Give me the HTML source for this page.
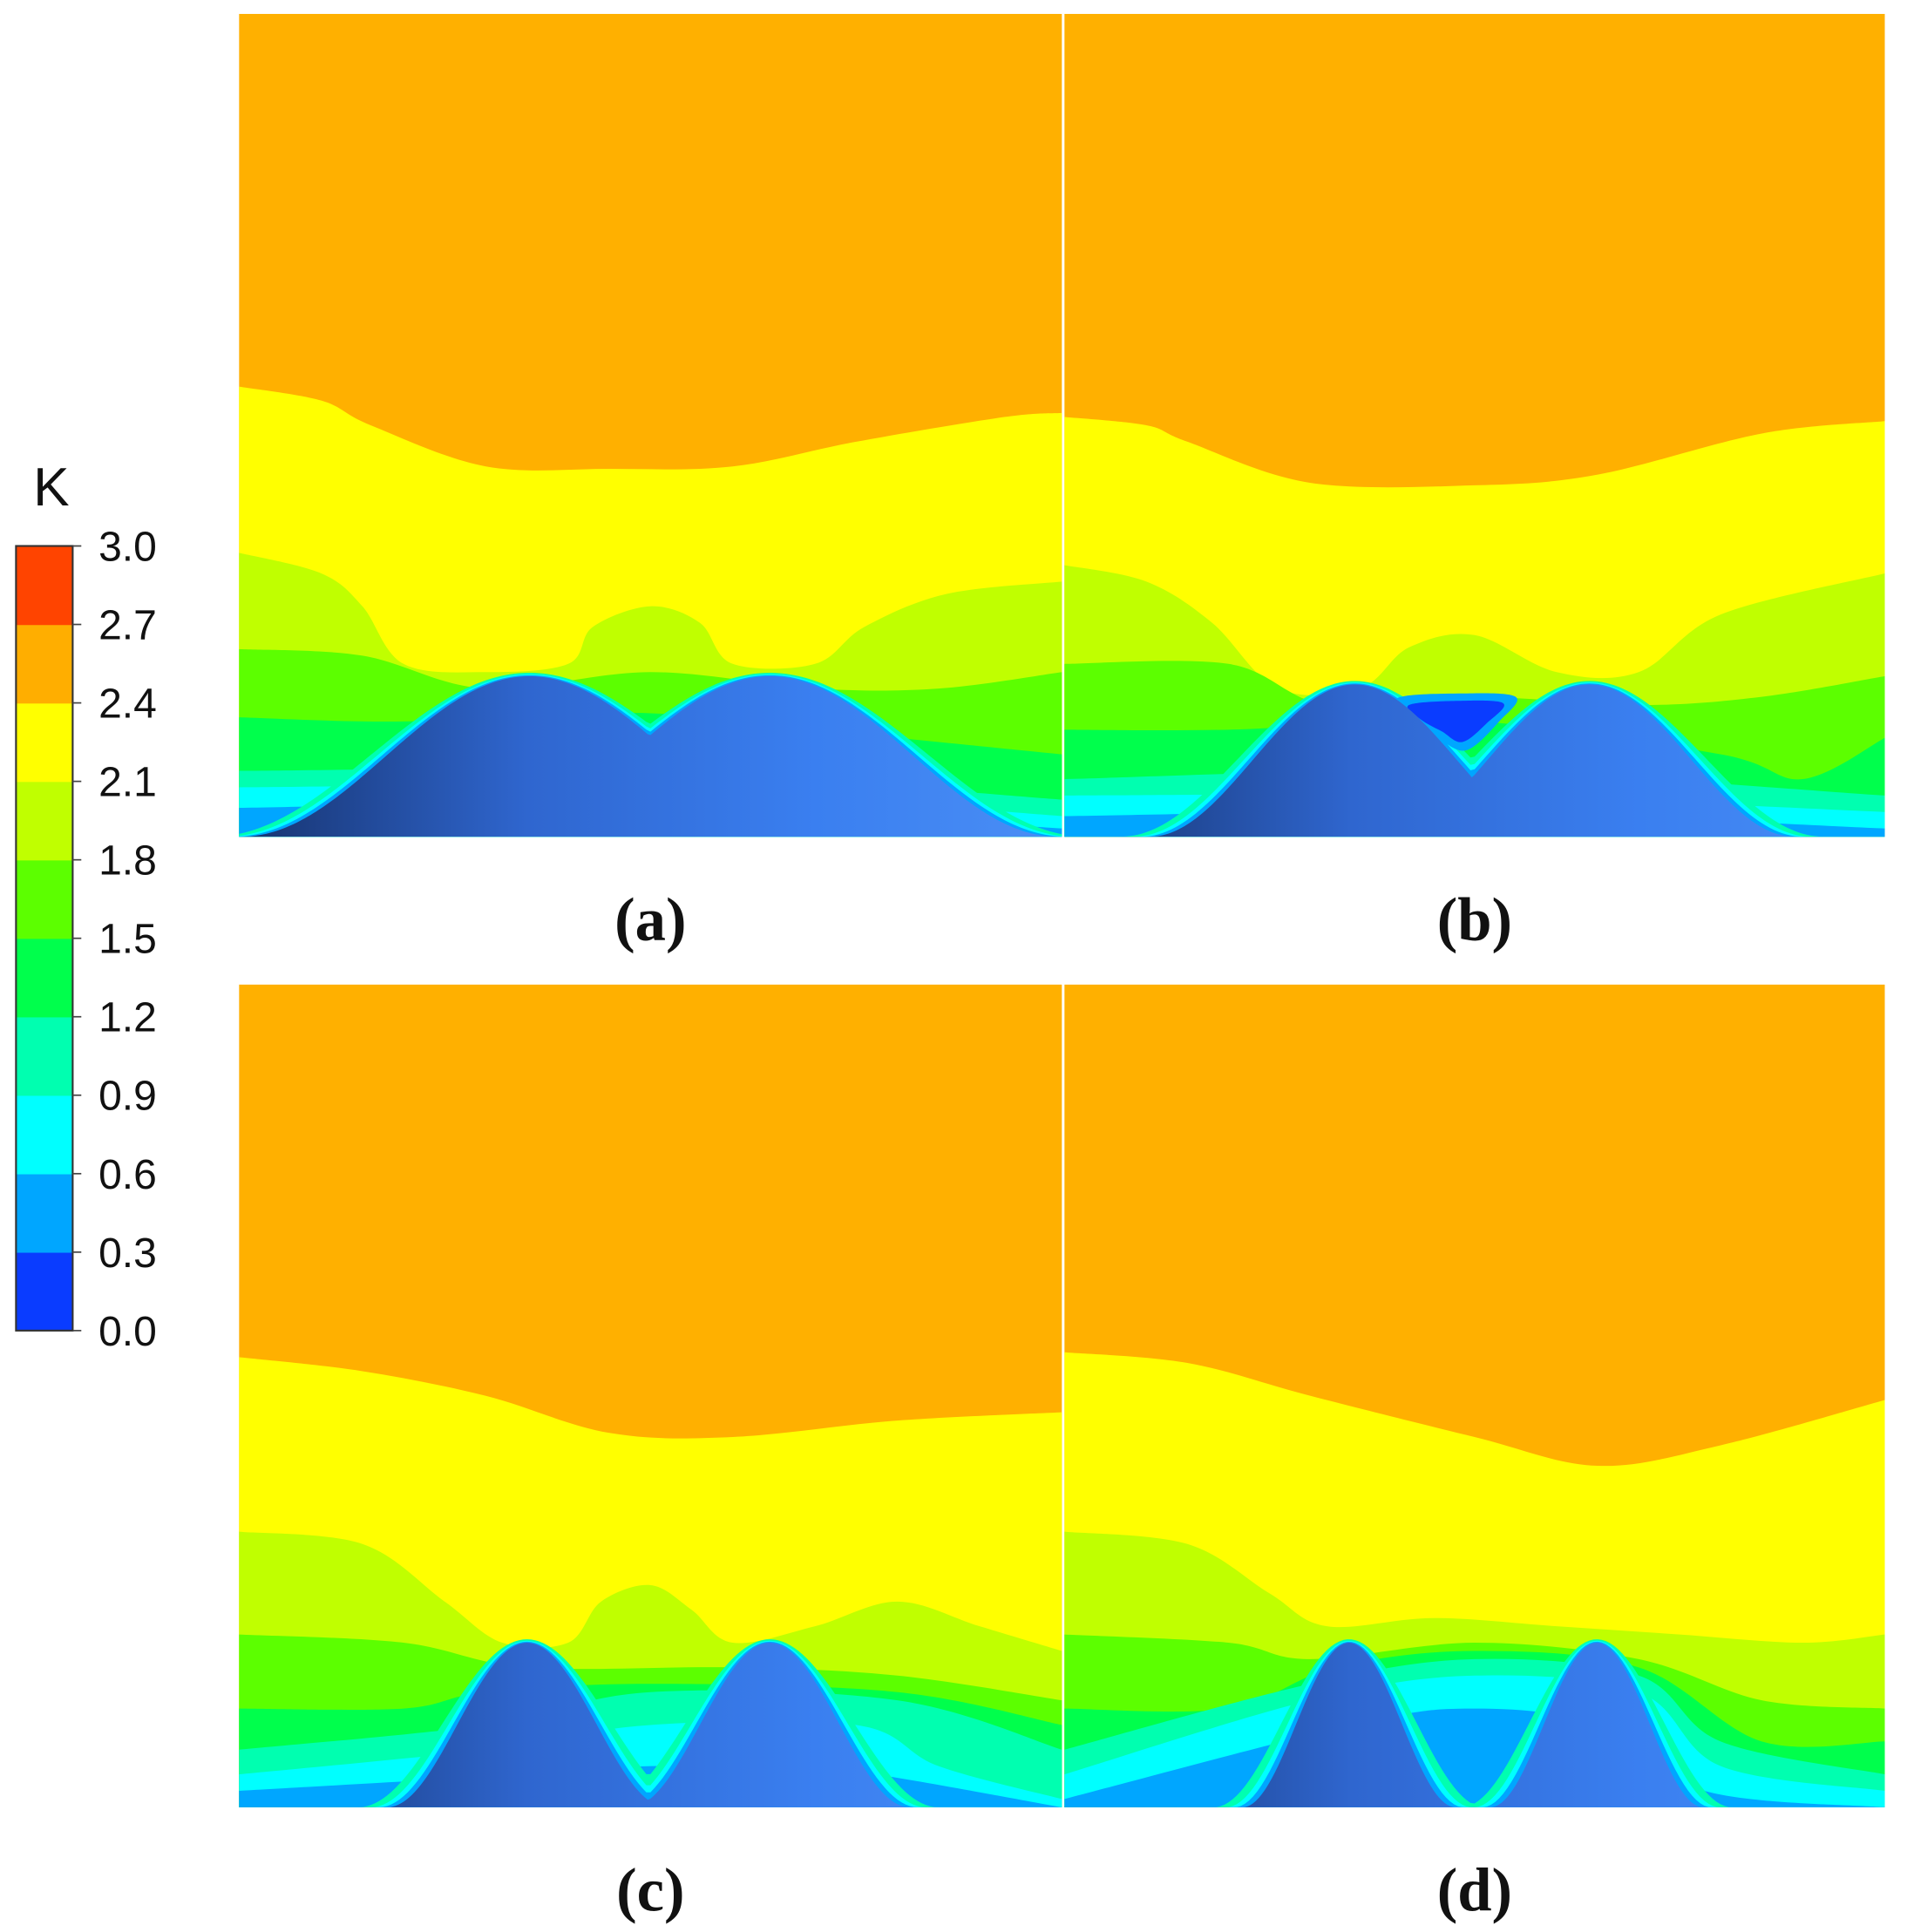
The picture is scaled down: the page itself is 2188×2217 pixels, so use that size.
<!DOCTYPE html>
<html><head><meta charset="utf-8"><style>
html,body{margin:0;padding:0;background:#fff;}
svg{display:block;}
</style></head><body>
<svg id="fig" width="2188" height="2217" viewBox="0 0 1548 1568" xmlns="http://www.w3.org/2000/svg">
<defs>
<linearGradient id="hillGrad" x1="0" y1="0" x2="1" y2="0">
<stop offset="0" stop-color="#17336e"/><stop offset="0.35" stop-color="#2f66cf"/><stop offset="0.7" stop-color="#3a7ff0"/><stop offset="1" stop-color="#4a8ef5"/>
</linearGradient>
</defs>
<g id="panels"></g>
<g id="colorbar"></g>
</svg>
<script>
// colorbar data
const levelLabels = ["0.0","0.3","0.6","0.9","1.2","1.5","1.8","2.1","2.4","2.7","3.0"];
const levelColors = ["#0a3cff","#00a6ff","#00ffff","#00ffb0","#00ff4c","#5cff00","#c0ff00","#ffff00","#ffae00","#ff4400"];

// contour boundaries per panel: [fx, fy] (fraction of panel), fill from line to bottom
const layersA = [
 ["#ffff00",[[0,0.453],[0.1,0.47],[0.16,0.5],[0.3,0.55],[0.45,0.553],[0.6,0.55],[0.75,0.52],[0.93,0.49],[1,0.485]]],
 ["#c0ff00",[[0,0.655],[0.1,0.68],[0.15,0.72],[0.2,0.79],[0.3,0.8],[0.4,0.79],[0.43,0.745],[0.5,0.72],[0.56,0.74],[0.6,0.79],[0.7,0.79],[0.76,0.745],[0.86,0.705],[1,0.69]]],
 ["#5cff00",[[0,0.772],[0.15,0.78],[0.3,0.82],[0.5,0.8],[0.7,0.82],[0.85,0.82],[1,0.8]]],
 ["#00ff4c",[[0,0.855],[0.2,0.86],[0.5,0.85],[0.8,0.88],[1,0.9]]],
 ["#00ffb0",[[0,0.92],[0.5,0.92],[1,0.955]]],
 ["#00ffff",[[0,0.94],[0.5,0.94],[1,0.975]]],
 ["#00a6ff",[[0,0.965],[0.5,0.96],[1,0.99]]]
];
const layersB = [
 ["#ffff00",[[0,0.49],[0.1,0.5],[0.15,0.52],[0.3,0.57],[0.5,0.573],[0.65,0.56],[0.85,0.51],[1,0.495]]],
 ["#c0ff00",[[0,0.67],[0.1,0.69],[0.18,0.74],[0.26,0.82],[0.36,0.82],[0.42,0.77],[0.5,0.755],[0.6,0.8],[0.7,0.8],[0.8,0.73],[1,0.68]]],
 ["#5cff00",[[0,0.79],[0.2,0.79],[0.32,0.84],[0.5,0.83],[0.7,0.84],[0.85,0.83],[1,0.805]]],
 ["#00ff4c",[[0,0.87],[0.2,0.87],[0.5,0.86],[0.8,0.9],[0.9,0.93],[1,0.88]]],
 ["#00ffb0",[[0,0.93],[0.5,0.92],[1,0.95]]],
 ["#00ffff",[[0,0.95],[0.5,0.95],[1,0.97]]],
 ["#00a6ff",[[0,0.975],[0.5,0.97],[1,0.99]]]
];
const layersC = [
 ["#ffff00",[[0,0.453],[0.15,0.47],[0.3,0.5],[0.45,0.545],[0.6,0.55],[0.8,0.53],[1,0.52]]],
 ["#c0ff00",[[0,0.665],[0.15,0.68],[0.25,0.75],[0.32,0.8],[0.4,0.8],[0.44,0.75],[0.5,0.73],[0.55,0.76],[0.6,0.8],[0.7,0.78],[0.8,0.75],[0.9,0.78],[1,0.81]]],
 ["#5cff00",[[0,0.79],[0.2,0.8],[0.35,0.83],[0.6,0.83],[0.8,0.84],[1,0.87]]],
 ["#00ff4c",[[0,0.88],[0.2,0.88],[0.3,0.86],[0.5,0.85],[0.8,0.86],[1,0.9]]],
 ["#00ffb0",[[0,0.93],[0.3,0.9],[0.5,0.86],[0.8,0.87],[1,0.93]]],
 ["#00ffff",[[0,0.96],[0.3,0.93],[0.5,0.9],[0.75,0.9],[0.85,0.95],[1,0.99]]],
 ["#00a6ff",[[0,0.98],[0.35,0.96],[0.5,0.95],[0.7,0.95],[1,1.0]]]
];
const layersD = [
 ["#ffff00",[[0,0.447],[0.15,0.46],[0.3,0.5],[0.5,0.55],[0.65,0.585],[0.8,0.56],[1,0.505]]],
 ["#c0ff00",[[0,0.665],[0.15,0.68],[0.25,0.74],[0.32,0.78],[0.45,0.77],[0.6,0.78],[0.75,0.79],[0.9,0.8],[1,0.79]]],
 ["#5cff00",[[0,0.79],[0.2,0.8],[0.3,0.82],[0.5,0.8],[0.7,0.82],[0.85,0.87],[1,0.88]]],
 ["#00ff4c",[[0,0.88],[0.2,0.88],[0.33,0.83],[0.5,0.81],[0.7,0.83],[0.85,0.92],[1,0.92]]],
 ["#00ffb0",[[0,0.93],[0.3,0.85],[0.5,0.82],[0.7,0.84],[0.8,0.92],[1,0.96]]],
 ["#00ffff",[[0,0.96],[0.3,0.87],[0.5,0.84],[0.7,0.86],[0.8,0.95],[1,0.98]]],
 ["#00a6ff",[[0,0.99],[0.35,0.9],[0.5,0.88],[0.65,0.9],[0.78,0.98],[1,1.0]]]
];
// low-K pockets: [color, smooth closed outline as fractions]
const pocketsA = [];
const pocketsB = [
 ["#00a6ff",[[0.405,0.832],[0.48,0.826],[0.55,0.83],[0.53,0.86],[0.49,0.895],[0.455,0.88],[0.425,0.86]]],
 ["#0a3cff",[[0.42,0.84],[0.48,0.835],[0.535,0.838],[0.515,0.862],[0.485,0.885],[0.46,0.872],[0.435,0.858]]]
];
const pocketsC = [];
const pocketsD = [];
// hills: [centerFrac, halfWidthFrac, peakFrac]
const hillsA = [[0.353,0.35,0.805],[0.645,0.35,0.805]];
const hillsB = [[0.354,0.25,0.815],[0.64,0.25,0.815]];
const hillsC = [[0.35,0.17,0.8],[0.645,0.17,0.8]];
const hillsD = [[0.347,0.13,0.8],[0.649,0.13,0.8]];
const panelLabels = ["(a)","(b)","(c)","(d)"];

const NS="http://www.w3.org/2000/svg";
const svg=document.getElementById('fig');
const pg=document.getElementById('panels');
function el(tag,attrs,parent){const e=document.createElementNS(NS,tag);for(const k in attrs)e.setAttribute(k,attrs[k]);parent.appendChild(e);return e;}

function smoothPath(pts,closed){
 const n=pts.length;
 const get=i=>closed?pts[(i+n)%n]:pts[Math.max(0,Math.min(n-1,i))];
 let d="M"+pts[0][0]+","+pts[0][1];
 const segs=closed?n:n-1;
 for(let i=0;i<segs;i++){
  const p0=get(i-1),p1=get(i),p2=get(i+1),p3=get(i+2);
  const c1=[p1[0]+(p2[0]-p0[0])/6,p1[1]+(p2[1]-p0[1])/6];
  const c2=[p2[0]-(p3[0]-p1[0])/6,p2[1]-(p3[1]-p1[1])/6];
  d+=" C"+c1[0]+","+c1[1]+" "+c2[0]+","+c2[1]+" "+p2[0]+","+p2[1];
 }
 return closed?d+" Z":d;
}

const panelBoxes=[[194,11,668,668],[864,11,666,668],[194,799,668,668],[864,799,666,668]];
const allLayers=[layersA,layersB,layersC,layersD];
const allPockets=[pocketsA,pocketsB,pocketsC,pocketsD];
const allHills=[hillsA,hillsB,hillsC,hillsD];

function hillY(fx,hills,grow){
 let best=1;
 hills.forEach(h=>{
  const hw=h[1]+grow, dx=(fx-h[0])/hw;
  if(Math.abs(dx)<1){const y=1-(1-(h[2]-grow*0.12))*(0.5+0.5*Math.cos(Math.PI*dx));if(y<best)best=y;}
 });
 return best;
}

panelBoxes.forEach((b,pi)=>{
 const [x0,y0,w,h]=b;
 const g=el('g',{},pg);
 
 
 const clip=el('clipPath',{id:'clip'+pi},svg.querySelector('defs'));
 el('rect',{x:x0,y:y0,width:w,height:h},clip);
 const inner=el('g',{'clip-path':'url(#clip'+pi+')'},g);
 el('rect',{x:x0,y:y0,width:w,height:h,fill:'#ffb000'},inner);
 allLayers[pi].forEach((L,li)=>{
  const pts=L[1].map(p=>[x0+p[0]*w,y0+p[1]*h]);
  const d=smoothPath(pts,false)+" L"+(x0+w)+","+(y0+h+2)+" L"+x0+","+(y0+h+2)+" Z";
  const p=el('path',{d:d,fill:L[0]},inner);
  
  
 });
 [[0.035,'#00ffb0'],[0.02,'#00ffff'],[0.01,'#00a6ff']].forEach(hl=>{
  let d="M"+x0+","+(y0+h+2);
  for(let i=0;i<=200;i++){const fx=i/200;d+=" L"+(x0+fx*w)+","+(y0+hillY(fx,allHills[pi],hl[0])*h);}
  d+=" L"+(x0+w)+","+(y0+h+2)+" Z";
  el('path',{d:d,fill:hl[1]},inner);
 });
 allPockets[pi].forEach(P=>{
  const pts=P[1].map(p=>[x0+p[0]*w,y0+p[1]*h]);
  const q=el('path',{d:smoothPath(pts,true),fill:P[0]},inner);
  
  
 });
 let d="M"+x0+","+(y0+h+2);
 for(let i=0;i<=300;i++){const fx=i/300;d+=" L"+(x0+fx*w)+","+(y0+hillY(fx,allHills[pi],0)*h);}
 d+=" L"+(x0+w)+","+(y0+h+2)+" Z";
 const hp=el('path',{d:d,fill:'url(#hillGrad)'},inner);
 
 
 const t=el('text',{x:x0+w/2,y:y0+h+84,'text-anchor':'middle','font-family':'Liberation Serif, serif','font-size':'50','font-weight':'bold',fill:'#111'},g);
 t.textContent=panelLabels[pi];
 
 
});

// colorbar
const cb=document.getElementById('colorbar');
const cbX=13,cbTop=443,cbBot=1080,cbW=46;
const seg=(cbBot-cbTop)/levelColors.length;
levelColors.forEach((c,i)=>{
 const r=el('rect',{x:cbX,y:cbBot-(i+1)*seg,width:cbW,height:seg+0.5,fill:c},cb);
 
 
});
el('rect',{x:cbX,y:cbTop,width:cbW,height:cbBot-cbTop,fill:'none',stroke:'#333','stroke-width':1.5},cb);
levelLabels.forEach((lab,i)=>{
 const y=cbBot-i*seg;
 el('line',{x1:cbX+cbW,x2:cbX+cbW+7,y1:y,y2:y,stroke:'#444','stroke-width':1.2},cb);
 const t=el('text',{x:80,y:y+12,'font-family':'Liberation Sans, sans-serif','font-size':'34',fill:'#111'},cb);
 t.textContent=lab;
 
 
});
const kt=el('text',{x:27,y:410,'font-family':'Liberation Sans, sans-serif','font-size':'44',fill:'#111'},cb);
kt.textContent="K";


</script>
</body></html>
